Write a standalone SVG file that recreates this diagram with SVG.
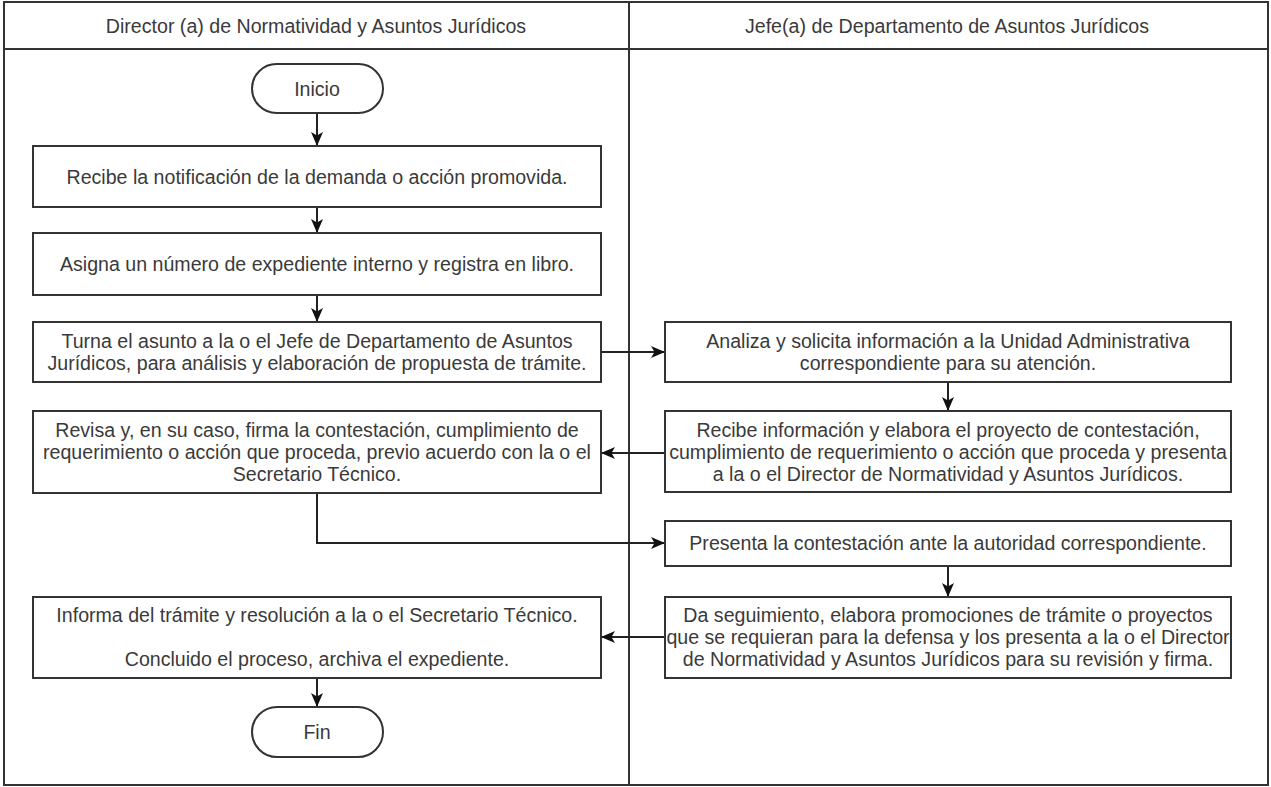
<svg xmlns="http://www.w3.org/2000/svg" width="1271" height="787" viewBox="0 0 1271 787">
<style>
.t{font-family:"Liberation Sans",Arial,sans-serif;font-size:19.6px;fill:#3a3a3a;text-anchor:middle;dominant-baseline:central}
.b{fill:#fff;stroke:#333;stroke-width:2}
.c{fill:none;stroke:#222;stroke-width:2}
.lane{fill:none;stroke:#333;stroke-width:2}
</style>
<defs>
<marker id="ah" viewBox="0 0 14 12" refX="14" refY="6" markerWidth="14" markerHeight="12" markerUnits="userSpaceOnUse" orient="auto">
<path d="M0,0 L14,6 L0,12 L3.5,6 Z" fill="#111"/>
</marker>
</defs>
<rect width="1271" height="787" fill="#fff"/>
<g id="lanes">
<rect class="lane" x="4" y="2" width="1264" height="783"/>
<line class="lane" x1="4" y1="49" x2="1268" y2="49"/>
<line class="lane" x1="629" y1="2" x2="629" y2="785"/>
<text class="t" x="316" y="26">Director (a) de Normatividad y Asuntos Jurídicos</text>
<text class="t" x="947" y="26">Jefe(a) de Departamento de Asuntos Jurídicos</text>
</g>
<g id="connectors">
<line class="c" x1="317" y1="113" x2="317" y2="146" marker-end="url(#ah)"/>
<line class="c" x1="317" y1="207" x2="317" y2="233" marker-end="url(#ah)"/>
<line class="c" x1="317" y1="295" x2="317" y2="322" marker-end="url(#ah)"/>
<line class="c" x1="601" y1="352" x2="665" y2="352" marker-end="url(#ah)"/>
<line class="c" x1="948" y1="382" x2="948" y2="411" marker-end="url(#ah)"/>
<line class="c" x1="665" y1="453" x2="601" y2="453" marker-end="url(#ah)"/>
<polyline class="c" points="317,493 317,543 665,543" marker-end="url(#ah)"/>
<line class="c" x1="948" y1="566" x2="948" y2="597" marker-end="url(#ah)"/>
<line class="c" x1="665" y1="637" x2="601" y2="637" marker-end="url(#ah)"/>
<line class="c" x1="317" y1="678" x2="317" y2="707" marker-end="url(#ah)"/>
</g>
<g id="inicio">
<rect class="b" x="252" y="64" width="131" height="49" rx="24.5"/>
<text class="t" x="317" y="89">Inicio</text>
</g>
<g id="recibe-notificacion">
<rect class="b" x="33" y="146" width="568" height="61"/>
<text class="t" x="317" y="177">Recibe la notificación de la demanda o acción promovida.</text>
</g>
<g id="asigna">
<rect class="b" x="33" y="233" width="568" height="62"/>
<text class="t" x="317" y="264">Asigna un número de expediente interno y registra en libro.</text>
</g>
<g id="turna">
<rect class="b" x="33" y="322" width="568" height="60"/>
<text class="t" x="317" y="341">Turna el asunto a la o el Jefe de Departamento de Asuntos</text>
<text class="t" x="317" y="363">Jurídicos, para análisis y elaboración de propuesta de trámite.</text>
</g>
<g id="revisa">
<rect class="b" x="33" y="411" width="568" height="82"/>
<text class="t" x="317" y="430">Revisa y, en su caso, firma la contestación, cumplimiento de</text>
<text class="t" x="317" y="452">requerimiento o acción que proceda, previo acuerdo con la o el</text>
<text class="t" x="317" y="474">Secretario Técnico.</text>
</g>
<g id="informa">
<rect class="b" x="33" y="597" width="568" height="81"/>
<text class="t" x="317" y="615">Informa del trámite y resolución a la o el Secretario Técnico.</text>
<text class="t" x="317" y="659">Concluido el proceso, archiva el expediente.</text>
</g>
<g id="fin">
<rect class="b" x="252" y="707" width="131" height="50" rx="25"/>
<text class="t" x="317" y="732">Fin</text>
</g>
<g id="analiza">
<rect class="b" x="665" y="322" width="566" height="60"/>
<text class="t" x="948" y="341">Analiza y solicita información a la Unidad Administrativa</text>
<text class="t" x="948" y="363">correspondiente para su atención.</text>
</g>
<g id="recibe-informacion">
<rect class="b" x="665" y="411" width="566" height="81"/>
<text class="t" x="948" y="430">Recibe información y elabora el proyecto de contestación,</text>
<text class="t" x="948" y="452">cumplimiento de requerimiento o acción que proceda y presenta</text>
<text class="t" x="948" y="474">a la o el Director de Normatividad y Asuntos Jurídicos.</text>
</g>
<g id="presenta">
<rect class="b" x="665" y="521" width="566" height="45"/>
<text class="t" x="948" y="543">Presenta la contestación ante la autoridad correspondiente.</text>
</g>
<g id="da-seguimiento">
<rect class="b" x="665" y="597" width="566" height="81"/>
<text class="t" x="948" y="615">Da seguimiento, elabora promociones de trámite o proyectos</text>
<text class="t" x="948" y="637">que se requieran para la defensa y los presenta a la o el Director</text>
<text class="t" x="948" y="659">de Normatividad y Asuntos Jurídicos para su revisión y firma.</text>
</g>
</svg>
